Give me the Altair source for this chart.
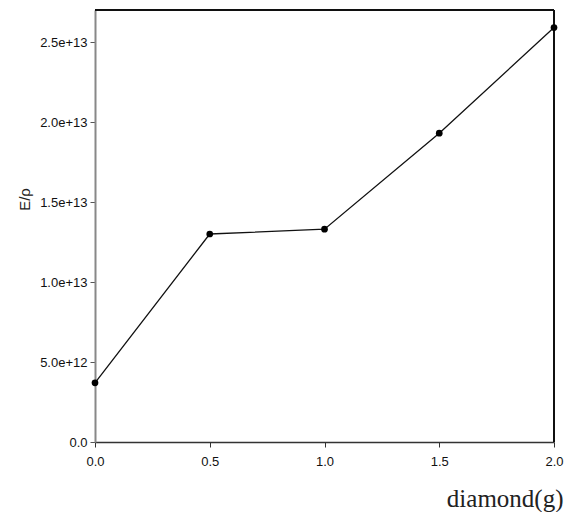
import altair as alt
import pandas as pd

x_vals = [0.0, 0.5, 1.0, 1.5, 2.0]
y_vals = [3.7e12, 1.30e13, 1.33e13, 1.93e13, 2.59e13]

x_ticks = [0.0, 0.5, 1.0, 1.5, 2.0]
x_labels = ["0.0", "0.5", "1.0", "1.5", "2.0"]
y_ticks = [0, 5e12, 1e13, 1.5e13, 2e13, 2.5e13]
y_labels = ["0.0", "5.0e+12", "1.0e+13", "1.5e+13", "2.0e+13", "2.5e+13"]

df = pd.DataFrame({"x": x_vals, "y": y_vals})

W, H = 459, 432


def label_expr(ticks, labels):
    parts = []
    for t, l in zip(ticks, labels):
        parts.append(f"abs(datum.value - {t}) < {abs(t) * 1e-6 + 1e-9} ? '{l}'")
    return " : ".join(parts) + " : ''"


x_axis = alt.Axis(
    values=x_ticks,
    labelExpr=label_expr(x_ticks, x_labels),
    title="diamond(g)",
    titleFont="Liberation Serif",
    titleFontSize=25,
    titleFontWeight="normal",
    titleColor="#222",
    titleAnchor="end",
    titleAlign="right",
    titleBaseline="alphabetic",
    titleX=468,
    titleY=64,
    labelFont="Liberation Sans",
    labelFontSize=13,
    labelColor="#111",
    labelPadding=8,
    labelFlush=False,
    domainColor="#333",
    domainWidth=1.5,
    tickColor="#333",
    tickSize=5,
    grid=False,
)

y_axis = alt.Axis(
    values=y_ticks,
    labelExpr=label_expr(y_ticks, y_labels),
    title="E/ρ",
    titleFont="Liberation Sans",
    titleFontSize=15,
    titleFontWeight="normal",
    titleColor="#222",
    titleAngle=-90,
    titleAlign="center",
    titleBaseline="middle",
    titleX=-71,
    titleY=189,
    labelFont="Liberation Sans",
    labelFontSize=13,
    labelColor="#111",
    labelPadding=3,
    labelFlush=False,
    domainColor="#888",
    domainWidth=2,
    tickColor="#555",
    tickSize=5,
    grid=False,
)

base = alt.Chart(df).encode(
    x=alt.X("x:Q", scale=alt.Scale(domain=[0, 2.0], nice=False, zero=False), axis=x_axis),
    y=alt.Y("y:Q", scale=alt.Scale(domain=[0, 2.7e13], nice=False), axis=y_axis),
)

frame_top = alt.Chart(df).mark_rule(color="#111", strokeWidth=1.5).encode(
    x=alt.value(0), x2=alt.value(W), y=alt.value(0)
)
frame_right = alt.Chart(df).mark_rule(color="#111", strokeWidth=1.5).encode(
    x=alt.value(W), y=alt.value(0), y2=alt.value(H)
)

line = base.mark_line(color="#111", strokeWidth=1.3, clip=False)
points = base.mark_point(filled=True, color="#000", size=45, opacity=1, clip=False)

chart = (
    alt.layer(frame_top, frame_right, line, points)
    .properties(
        width=W,
        height=H,
        autosize=alt.AutoSizeParams(type="none"),
        padding={"left": 87, "top": 2, "right": 10, "bottom": 70},
    )
    .configure_view(stroke=None)
    .configure(background="white")
)

chart.save("out.html", embed_options={"renderer": "svg", "actions": False})
